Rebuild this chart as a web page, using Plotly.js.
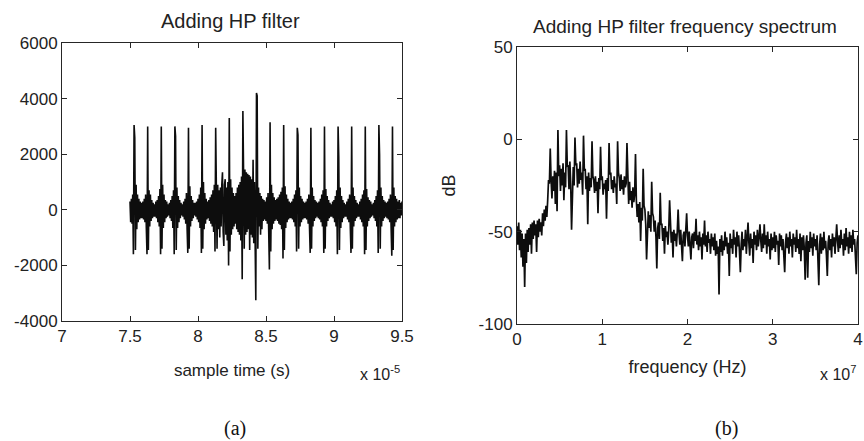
<!DOCTYPE html>
<html>
<head>
<meta charset="utf-8">
<script src="https://cdn.plot.ly/plotly-3.0.1.min.js"></script>
<style>
  html, body { margin: 0; padding: 0; background: #fff; }
  #chart { width: 864px; height: 441px; }
</style>
</head>
<body>
<div id="chart"></div>
<script>
// ---------- data ----------
// (a) time signal: first sample at 7.5 (x 10^-5 s), one sample every 0.005 (x 10^-5 s)
const timeStart = 7.5;
const timeStep = 0.005;
const signal = [
  300, -450, 400, -500, 550,
  -1600, 3050, 2600, -1450, 900, -700, 550, -450, 400, -350, 300, -300, 250, -300, 300, -350, 400, -450, 550, -650,
  -1600, 3000, -1450, 700, -600, 550, -400, 350, -300, 250, -250, 200, -250, 300, -300, 350, -450, 500, -600, 750,
  -1600, 3000, -1400, 900, -650, 550, -450, 350, -300, 300, -250, 200, -200, 250, -300, 350, -400, 500, -650, 700,
  -1600, 3000, 2650, -1450, 800, -650, 500, -450, 350, -300, 250, -200, 200, -250, 300, -350, 400, -500, 600, -700,
  -1550, 2950, -1400, 850, -600, 500, -400, 350, -300, 250, -200, 250, -250, 300, -350, 400, -450, 550, -650, 800,
  -1550, 3050, -1400, 1000, -700, 600, -500, 400, -350, 300, -300, 350, -400, 450, -500, 550, -600, 700, -800, 900,
  -1500, 2950, 1450, -1400, 900, -700, 700, -1000, 800, -600, 900, 1350, -800, -1300, 900, 1100, -900, 800, -1100, 1000,
  -2000, 3300, -1500, 1100, -900, 800, -700, 600, -600, 500, -500, 600, -700, 800, -800, 900, -900, 1000, -1100, 1200,
  -2500, 3550, 1400, -1400, 1450, -900, 1350, -800, 1300, -700, 1250, -1450, 1200, -900, 1100, -1000, 1800, -1200, 1000, -1300,
  -3250, 4200, 4100, -1400, 800, -600, 600, -900, 500, -700, 400, -400, 350, -350, 300, -400, 450, -500, 600, -800,
  -2150, 3150, -1500, 900, -700, 600, -500, 450, -400, 350, -350, 400, -400, 450, -500, 550, -550, 650, -700, 800,
  -1750, 3050, -1450, 850, -650, 550, -450, 400, -350, 300, -300, 250, -300, 300, -350, 400, -450, 550, -600, 700,
  -1500, 2950, 2700, -1400, 800, -600, 500, -450, 400, -350, 300, -300, 250, -300, 300, -350, 400, -500, 550, -650,
  -1550, 2950, -1400, 800, -600, 500, -400, 350, -300, 300, -250, 250, -300, 300, -350, 400, -450, 550, -600, 700,
  -1550, 3000, -1400, 750, -600, 500, -400, 350, -300, 250, -250, 200, -250, 300, -300, 350, -450, 500, -600, 700,
  -1600, 3000, 1900, -1450, 800, -650, 500, -450, 350, -300, 250, -250, 200, -250, 300, -350, 400, -450, 550, -650,
  -1550, 3000, -1400, 800, -600, 500, -400, 350, -300, 250, -250, 200, -250, 300, -350, 400, -450, 550, -600, 700,
  -1600, 3000, -1450, 750, -600, 450, -400, 350, -300, 300, -250, 200, -200, 250, -300, 350, -400, 500, -600, 700,
  -1550, 3050, 2000, -1400, 800, -600, 500, -400, 350, -300, 300, -250, 250, -300, 300, -350, 400, -450, 550, -650,
  -1650, 3000, -1450, 800, -600, 500, -450, 400, -350, 300, -300, 350, -300, 250, -200, 300
];

// (b) spectrum: first bin at 0 (x 10^7 Hz), one bin every 0.01 (x 10^7 Hz)
const freqStart = 0;
const freqStep = 0.01;
const spectrumDb = [
  -47, -57, -45, -60, -49, -64, -51, -69, -54, -80,
  -51, -67, -49, -61, -48, -57, -46, -62, -45, -54,
  -44, -52, -46, -61, -44, -53, -43, -50, -45, -52,
  -40, -47, -38, -44, -36, -42, -33, -22, -24, -5,
  -22, -32, -20, -28, -17, -35, -18, -39, 5, -20,
  -14, -28, -16, -25, -13, -33, -18, -26, 5, -15,
  -14, -27, -12, -24, -49, -20, -15, -25, 1, -14,
  -13, -26, -16, -24, -12, -22, -18, -30, 2, -17,
  -16, -27, -20, -46, -18, -28, -21, -26, -1, -20,
  -22, -29, -20, -28, -23, -40, -21, -27, -4, -22,
  -20, -30, -24, -27, -22, -43, -21, -28, -2, -19,
  -18, -27, -22, -29, -20, -26, -24, -35, -1, -18,
  -21, -28, -19, -27, -22, -30, -20, -26, -24, -2,
  -25, -35, -23, -33, -28, -37, -26, -34, -30, -8,
  -33, -42, -35, -45, -34, -55, -37, -44, -16, -36,
  -38, -46, -65, -44, -39, -48, -41, -50, -23, -40,
  -42, -50, -44, -53, -70, -48, -45, -54, -29, -46,
  -46, -55, -48, -62, -47, -53, -50, -57, -49, -33,
  -48, -56, -50, -64, -49, -55, -51, -58, -50, -38,
  -50, -57, -49, -55, -66, -52, -50, -58, -51, -40,
  -52, -58, -50, -56, -65, -53, -51, -59, -50, -55,
  -43, -57, -52, -60, -50, -58, -53, -65, -51, -57,
  -44, -58, -52, -61, -50, -56, -54, -62, -51, -58,
  -53, -60, -51, -63, -55, -62, -58, -84, -54, -61,
  -52, -63, -55, -60, -50, -58, -53, -62, -56, -74,
  -51, -59, -54, -62, -49, -57, -53, -64, -50, -58,
  -52, -61, -72, -57, -50, -60, -54, -58, -49, -62,
  -53, -45, -56, -63, -51, -59, -54, -67, -50, -57,
  -52, -60, -49, -58, -53, -46, -55, -61, -51, -59,
  -46, -57, -52, -62, -50, -58, -54, -65, -51, -60,
  -53, -59, -50, -61, -52, -57, -55, -68, -51, -58,
  -52, -60, -54, -63, -72, -56, -51, -59, -53, -62,
  -50, -58, -54, -64, -51, -57, -53, -61, -49, -59,
  -54, -62, -51, -66, -53, -60, -52, -59, -76, -56,
  -52, -75, -55, -61, -50, -59, -53, -63, -51, -58,
  -54, -60, -52, -65, -79, -57, -51, -62, -53, -60,
  -50, -59, -55, -63, -74, -56, -52, -60, -54, -64,
  -51, -58, -53, -62, -50, -46, -55, -61, -52, -59,
  -49, -57, -54, -63, -51, -60, -48, -58, -53, -62,
  -50, -59, -52, -61, -49, -57, -54, -63, -73, -56,
  -52
];

// tick values and labels
const leftXTicks = [7, 7.5, 8, 8.5, 9, 9.5];
const leftXLabels = ['7', '7.5', '8', '8.5', '9', '9.5'];
const leftYTicks = [-4000, -2000, 0, 2000, 4000, 6000];
const leftYLabels = ['-4000', '-2000', '0', '2000', '4000', '6000'];
const rightXTicks = [0, 1, 2, 3, 4];
const rightXLabels = ['0', '1', '2', '3', '4'];
const rightYTicks = [-100, -50, 0, 50];
const rightYLabels = ['-100', '-50', '0', '50'];

// ---------- chart ----------
const W = 864, H = 441;
const px = v => v / W;
const py = v => 1 - v / H;

const lineColor = '#0d0d0d';
const axisColor = '#262626';
const textColor = '#222222';
const sans = '"Liberation Sans", Arial, Helvetica, sans-serif';
const serif = '"Liberation Serif", "Times New Roman", serif';

const traces = [
  {
    type: 'scatter', mode: 'lines',
    x0: timeStart, dx: timeStep, y: signal,
    xaxis: 'x', yaxis: 'y',
    line: { color: lineColor, width: 1.6 },
    hoverinfo: 'skip'
  },
  {
    type: 'scatter', mode: 'lines',
    x0: freqStart, dx: freqStep, y: spectrumDb,
    xaxis: 'x2', yaxis: 'y2',
    line: { color: lineColor, width: 1.7 },
    hoverinfo: 'skip'
  }
];

const axisCommon = {
  showline: true, linecolor: axisColor, linewidth: 1, mirror: 'ticks',
  ticks: 'inside', ticklen: 5, tickwidth: 1, tickcolor: axisColor,
  showgrid: false, zeroline: false, fixedrange: true,
  tickfont: { family: sans, size: 17, color: textColor }
};

const layout = {
  width: W, height: H,
  margin: { l: 0, r: 0, t: 0, b: 0 },
  paper_bgcolor: '#ffffff', plot_bgcolor: '#ffffff',
  showlegend: false,
  font: { family: sans, size: 17, color: textColor },
  xaxis: Object.assign({}, axisCommon, {
    domain: [px(62), px(402)], anchor: 'y', range: [7, 9.5],
    tickmode: 'array', tickvals: leftXTicks, ticktext: leftXLabels,
    title: { text: 'sample time (s)', font: { family: sans, size: 17, color: textColor }, standoff: 18 }
  }),
  yaxis: Object.assign({}, axisCommon, {
    domain: [py(321), py(43)], anchor: 'x', range: [-4000, 6000],
    tickmode: 'array', tickvals: leftYTicks, ticktext: leftYLabels
  }),
  xaxis2: Object.assign({}, axisCommon, {
    domain: [px(517), px(858)], anchor: 'y2', range: [0, 4],
    tickmode: 'array', tickvals: rightXTicks, ticktext: rightXLabels,
    title: { text: 'frequency (Hz)', font: { family: sans, size: 18, color: textColor }, standoff: 11 }
  }),
  yaxis2: Object.assign({}, axisCommon, {
    domain: [py(324), py(47)], anchor: 'x2', range: [-100, 50],
    tickmode: 'array', tickvals: rightYTicks, ticktext: rightYLabels,
    title: { text: 'dB', font: { family: sans, size: 18, color: textColor }, standoff: 18 }
  }),
  annotations: [
    { text: 'Adding HP filter', xref: 'paper', yref: 'paper', x: px(230), y: py(21),
      xanchor: 'center', yanchor: 'middle', showarrow: false,
      font: { family: sans, size: 20, color: textColor } },
    { text: 'Adding HP filter frequency spectrum', xref: 'paper', yref: 'paper', x: px(685), y: py(26),
      xanchor: 'center', yanchor: 'middle', showarrow: false,
      font: { family: sans, size: 19, color: textColor } },
    { text: 'x 10<sup>-5</sup>', xref: 'paper', yref: 'paper', x: px(402), y: py(373),
      xanchor: 'right', yanchor: 'middle', showarrow: false,
      font: { family: sans, size: 16, color: textColor } },
    { text: 'x 10<sup>7</sup>', xref: 'paper', yref: 'paper', x: px(858), y: py(373),
      xanchor: 'right', yanchor: 'middle', showarrow: false,
      font: { family: sans, size: 16, color: textColor } },
    { text: '(a)', xref: 'paper', yref: 'paper', x: px(235), y: py(428),
      xanchor: 'center', yanchor: 'middle', showarrow: false,
      font: { family: serif, size: 20, color: '#111111' } },
    { text: '(b)', xref: 'paper', yref: 'paper', x: px(726), y: py(428),
      xanchor: 'center', yanchor: 'middle', showarrow: false,
      font: { family: serif, size: 20, color: '#111111' } }
  ]
};

Plotly.newPlot('chart', traces, layout, { staticPlot: true, displayModeBar: false });
</script>
</body>
</html>
